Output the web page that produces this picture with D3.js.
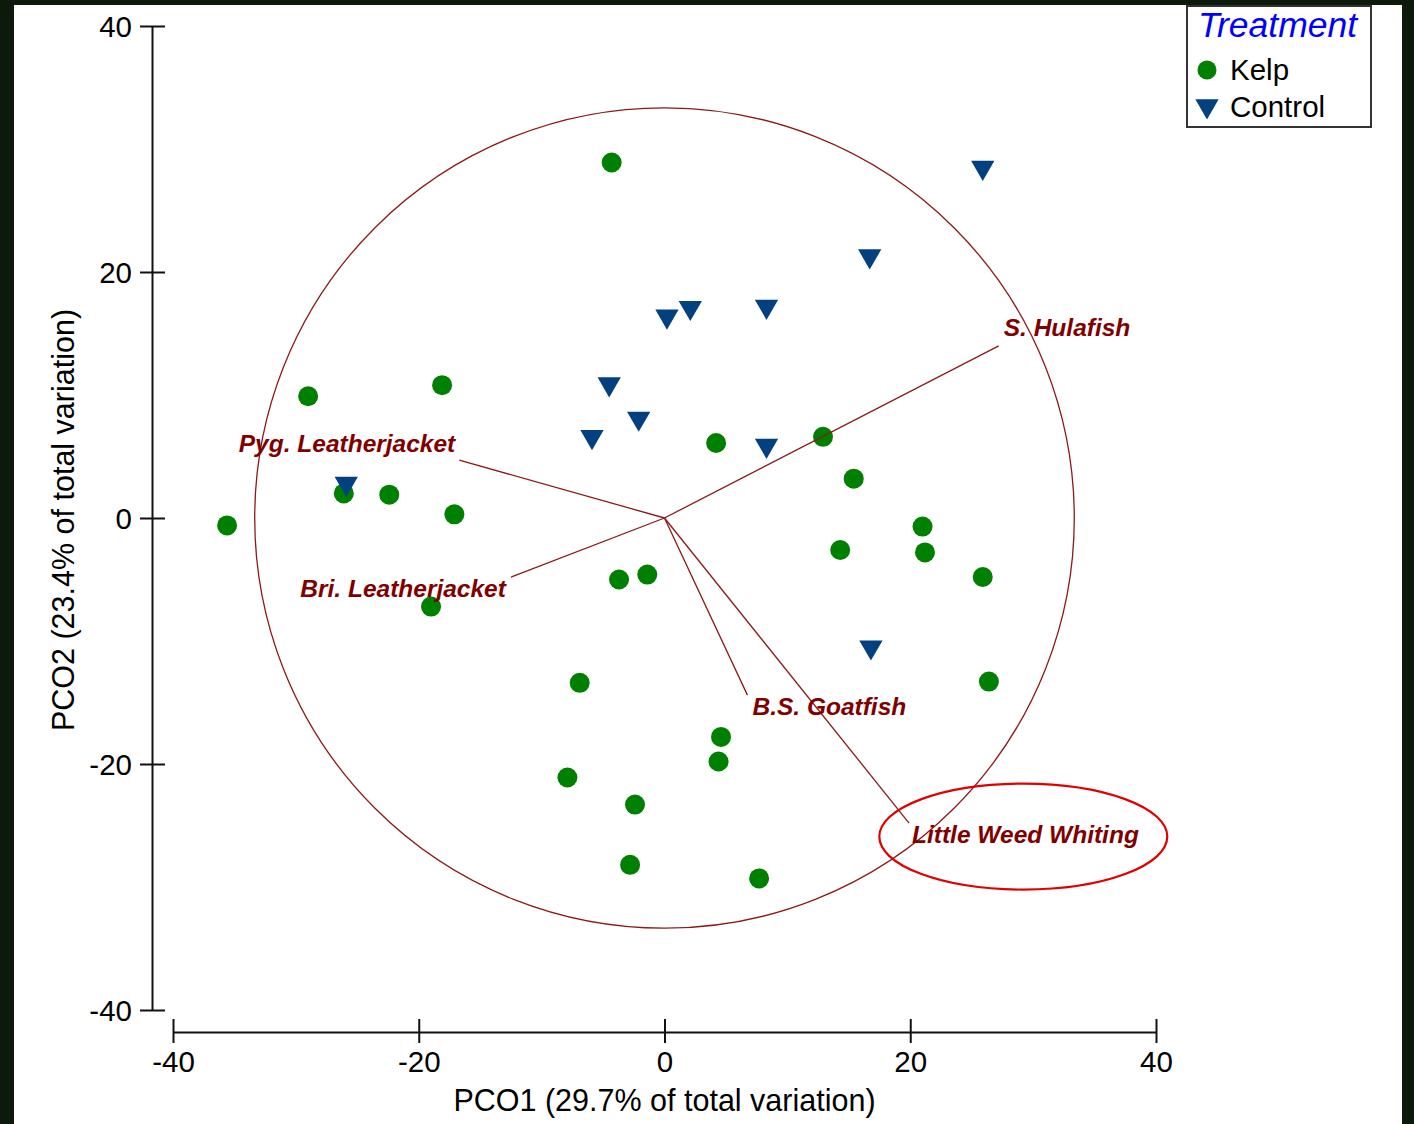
<!DOCTYPE html>
<html>
<head>
<meta charset="utf-8">
<script src="https://cdn.jsdelivr.net/npm/d3@7"></script>
<style>
  html, body { margin: 0; padding: 0; background: #0c1a0c; }
  svg { display: block; }
  text { font-family: "Liberation Sans", Arial, sans-serif; }
</style>
</head>
<body>
<div id="chart"></div>
<script>
// PCO ordination, Kelp vs Control, with species vector overlay
const kelpX = [-4.3, -29.0, -18.1, -35.6, -26.1, -22.4, -17.1, -19.0, 4.2, 12.9, 15.4, 21.0, 14.3, 21.2, 25.9, 26.4, -3.7, -1.4, -6.9, 4.6, 4.4, -7.9, -2.4, -2.8, 7.7];
const kelpY = [28.9, 9.9, 10.8, -0.6, 2.0, 1.9, 0.3, -7.2, 6.1, 6.6, 3.2, -0.7, -2.6, -2.8, -4.8, -13.3, -5.0, -4.6, -13.4, -17.8, -19.8, -21.1, -23.3, -28.2, -29.3];

const controlX = [25.9, 16.7, 8.3, 2.1, 0.2, -4.5, -2.1, -5.9, 8.3, -25.9, 16.8];
const controlY = [28.5, 21.3, 17.2, 17.1, 16.4, 10.9, 8.1, 6.6, 5.9, 2.8, -10.5];

const vectorNames = ["S. Hulafish", "Pyg. Leatherjacket", "Bri. Leatherjacket", "B.S. Goatfish", "Little Weed Whiting"];
const vectorX = [27.2, -16.7, -12.5, 6.75, 19.9];
const vectorY = [14.0, 4.7, -4.8, -14.4, -24.8];

const circleRadius = 33.35;       // correlation circle, in axis units
const tickValues = [-40, -20, 0, 20, 40];
const legendItems = ["Kelp", "Control"];

// label placement relative to the vector tips (pixels)
const labelLayout = [
  {dx: 5, dy: -10, anchor: "start"},
  {dx: -4, dy: -8, anchor: "end"},
  {dx: -5, dy: 20, anchor: "end"},
  {dx: 5, dy: 20, anchor: "start"},
  {dx: 3, dy: 20, anchor: "start"}
];

const W = 1414, H = 1124;
const svg = d3.select("#chart").append("svg")
    .attr("width", W)
    .attr("height", H);

svg.append("rect")
    .attr("x", 14).attr("y", 5)
    .attr("width", 1388).attr("height", H - 5)
    .attr("fill", "#fff");

const x = d3.scaleLinear().domain([-40, 40]).range([173, 1156]);
const y = d3.scaleLinear().domain([-40, 40]).range([1010, 26]);

const maroon = "#8b1a1a";
const green = "#008000";
const navy = "#034080";
const fmt = d => String(d);   // plain hyphen for negatives, like the original

// y axis
const yAxis = svg.append("g")
    .attr("transform", "translate(152,0)")
    .call(d3.axisLeft(y).tickValues(tickValues).tickSize(12).tickSizeOuter(0).tickFormat(fmt));
yAxis.select(".domain").attr("stroke", "#111").attr("stroke-width", 2);
yAxis.selectAll(".tick line").attr("x1", 13).attr("x2", -12).attr("stroke", "#111").attr("stroke-width", 2);
yAxis.selectAll(".tick text")
    .attr("x", -20).attr("dy", "0.35em")
    .attr("font-size", 29.5).attr("fill", "#000")
    .style("font-family", "'Liberation Sans', Arial, sans-serif");

// x axis
const xAxis = svg.append("g")
    .attr("transform", "translate(0,1032)")
    .call(d3.axisBottom(x).tickValues(tickValues).tickSize(11).tickSizeOuter(0).tickFormat(fmt));
xAxis.select(".domain").attr("stroke", "#111").attr("stroke-width", 2);
xAxis.selectAll(".tick line").attr("y1", -13).attr("y2", 11).attr("stroke", "#111").attr("stroke-width", 2);
xAxis.selectAll(".tick text")
    .attr("y", 40).attr("dy", 0)
    .attr("font-size", 29.5).attr("fill", "#000")
    .style("font-family", "'Liberation Sans', Arial, sans-serif");

// axis titles
svg.append("text")
    .attr("x", x(0)).attr("y", 1111)
    .attr("text-anchor", "middle")
    .attr("font-size", 30.5)
    .text("PCO1 (29.7% of total variation)");

svg.append("text")
    .attr("transform", `translate(74,${y(0) + 2}) rotate(-90)`)
    .attr("text-anchor", "middle")
    .attr("font-size", 30.5)
    .text("PCO2 (23.4% of total variation)");

// correlation circle
svg.append("ellipse")
    .attr("cx", x(0)).attr("cy", y(0))
    .attr("rx", x(circleRadius) - x(0))
    .attr("ry", y(0) - y(circleRadius))
    .attr("fill", "none")
    .attr("stroke", maroon)
    .attr("stroke-width", 1.3);

// points
const kelp = kelpX.map((v, i) => ({x: v, y: kelpY[i]}));
const control = controlX.map((v, i) => ({x: v, y: controlY[i]}));

svg.append("g").selectAll("circle")
    .data(kelp)
    .enter().append("circle")
    .attr("cx", d => x(d.x))
    .attr("cy", d => y(d.y))
    .attr("r", 10)
    .attr("fill", green);

const tri = d3.symbol().type(d3.symbolTriangle).size(235);
svg.append("g").selectAll("path")
    .data(control)
    .enter().append("path")
    .attr("d", tri)
    .attr("transform", d => `translate(${x(d.x)},${y(d.y)}) rotate(180)`)
    .attr("fill", navy);

// species vectors
const vectors = vectorNames.map((n, i) => ({name: n, x: vectorX[i], y: vectorY[i], lay: labelLayout[i]}));

svg.append("g").selectAll("line")
    .data(vectors)
    .enter().append("line")
    .attr("x1", x(0)).attr("y1", y(0))
    .attr("x2", d => x(d.x))
    .attr("y2", d => y(d.y))
    .attr("stroke", maroon)
    .attr("stroke-width", 1.3);

svg.append("g").selectAll("text")
    .data(vectors)
    .enter().append("text")
    .attr("x", d => x(d.x) + d.lay.dx)
    .attr("y", d => y(d.y) + d.lay.dy)
    .attr("text-anchor", d => d.lay.anchor)
    .attr("font-size", 24.5)
    .attr("font-weight", "bold")
    .attr("font-style", "italic")
    .attr("fill", "#800000")
    .text(d => d.name);

// highlight around Little Weed Whiting
svg.append("ellipse")
    .attr("cx", x(29.2)).attr("cy", y(-25.9))
    .attr("rx", 144).attr("ry", 53)
    .attr("fill", "none")
    .attr("stroke", "#e00000")
    .attr("stroke-width", 2.2);

// legend
const legend = svg.append("g");
legend.append("rect")
    .attr("x", 1187).attr("y", 6)
    .attr("width", 184).attr("height", 121)
    .attr("fill", "#fff")
    .attr("stroke", "#333")
    .attr("stroke-width", 2);
legend.append("text")
    .attr("x", 1198).attr("y", 37)
    .attr("font-size", 35.5)
    .attr("font-style", "italic")
    .attr("fill", "#0000ff")
    .text("Treatment");
legend.append("circle")
    .attr("cx", 1207).attr("cy", 70).attr("r", 9.5)
    .attr("fill", green);
legend.append("path")
    .attr("d", tri)
    .attr("transform", "translate(1207,106) rotate(180)")
    .attr("fill", navy);
legend.selectAll("text.item")
    .data(legendItems)
    .enter().append("text")
    .attr("class", "item")
    .attr("x", 1230)
    .attr("y", (d, i) => 80 + i * 37)
    .attr("font-size", 29.5)
    .attr("fill", "#000")
    .text(d => d);
</script>
</body>
</html>
